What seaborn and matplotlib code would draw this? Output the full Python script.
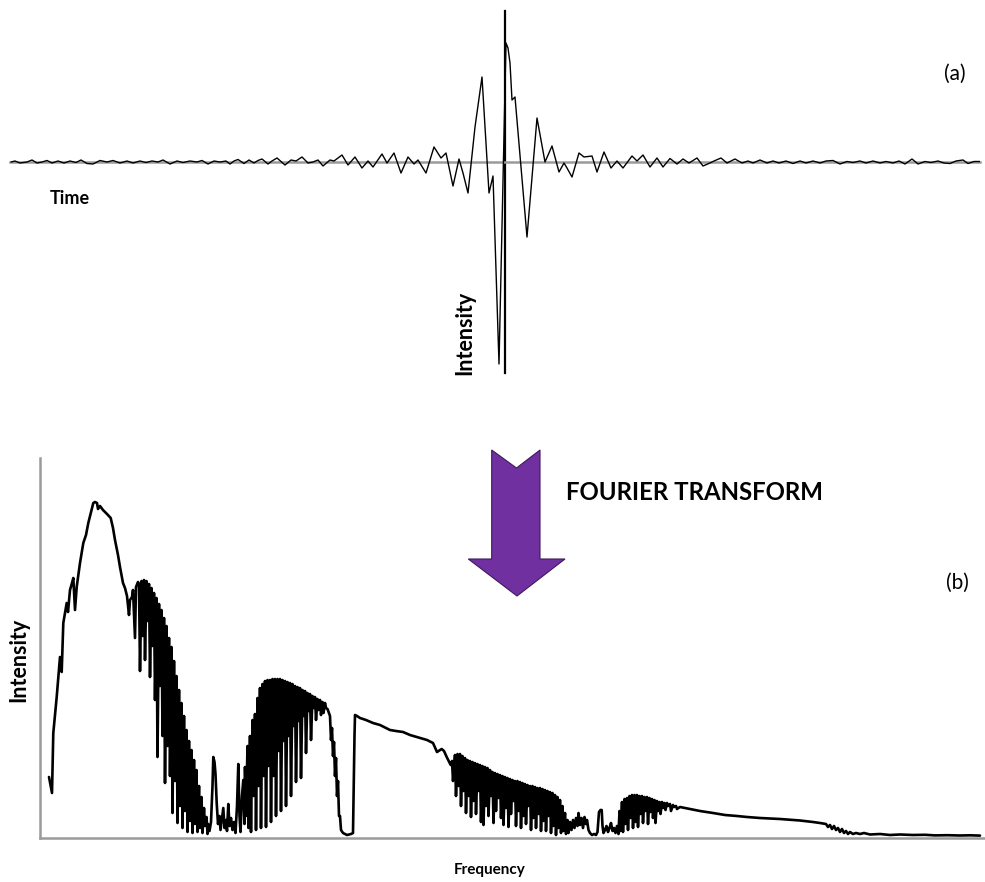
import numpy as np
import pandas as pd
import matplotlib
matplotlib.use("Agg")
import matplotlib.pyplot as plt
from matplotlib.patches import Polygon
import seaborn as sns

# ---------------- interferogram (time domain) ----------------
# optical delay (arbitrary units, 0 = zero path difference) and detector signal
time_delay = [
    -494, -490, -485, -478, -473, -468, -463, -458, -453, -447, -441, -435, -429, -424,
    -418, -412, -405, -398, -392, -385, -378, -372, -365, -359, -353, -347, -342, -335,
    -328, -322, -315, -308, -303, -297, -291, -285, -279, -275, -271, -267, -261, -256,
    -251, -247, -243, -237, -233, -228, -220, -214, -209, -203, -197, -192, -187, -182,
    -175, -171, -163, -157, -150, -143, -137, -132, -123, -118, -111, -104, -97, -91,
    -87, -79, -71, -64, -59, -52, -46, -42, -37, -30, -23, -16, -12, -6, 1, 3, 5, 7,
    10, 22, 32, 40, 47, 54, 59, 62, 67, 74, 79, 87, 92, 99, 106, 112, 118, 127, 132,
    138, 145, 152, 158, 165, 172, 178, 184, 192, 198, 205, 209, 216, 222, 230, 237,
    243, 248, 255, 262, 268, 274, 281, 288, 295, 301, 308, 315, 321, 328, 335, 342,
    348, 355, 361, 368, 375, 381, 388, 394, 400, 407, 413, 420, 426, 433, 439, 445,
    451, 458, 463, 469, 475,
]
signal = [
    0, 1, -1, 0, 2, -1, 0, 1.5, -1, 1, -1, 1, -0.5, 2,
    -1.5, -2, 1.5, 0, 1.5, -1, 1, -1, 1, -0.5, 1, 0, 2, -2,
    1, -0.5, 1, 0, 1.5, -2, 1, 0, 1, -2, 1, 2.5, -1.5, 2,
    -1, 1.5, 3, -2, 1, 4, -3, 2, 1, 5, -1, 0, 2, -4,
    2, 1, 7, -3, 5, -6, 1, -5, 8, -1, 9, -11, 5, -2,
    2, -11, 15, 4, 9, -24, 3, -11, -31, 35, 85, -31, -14, -202, 119, 114, 99, 62,
    65, -75, 44, 0, 16, -10, -1, -6, -15, 9, 5, 6, -10, 10, -6, 1, -6, 6, 1,
    7, -5, 4, -5, 3.5, -2, 3, -1, 4, -4, -1, 1, 4, -1, 3, -1,
    1, -1, 2, -1, 1, -1, 1, -1.5, 1, -1, 1, -1, 1, 1.5, -2, 0.5,
    -0.5, 1, -1, 1, -1, 0.5, -1, 1, -2, 3, -2, 0.5, -0.5, 1, -1, -1.5,
    1, 2, -1.5, 0.5, 0.5,
]

# ---------------- spectrum (frequency domain) ----------------
# (wavenumber, intensity) pairs, region by region
spec_rise = [
    (49, 59), (52, 43), (53.3, 103), (56.7, 139), (60, 179), (61.7, 164), (63.3, 213),
    (66.7, 233), (68, 224), (70, 246), (72, 253), (73.3, 258), (75, 226), (76.7, 249),
    (80, 273), (83.3, 293), (86, 301), (88.3, 313), (91, 324), (93.3, 333), (95, 334),
    (97, 333), (98, 327), (100, 330), (103, 326), (107, 322), (110.7, 318), (113, 308),
    (115, 296), (118, 281), (120, 269), (123, 253), (125, 248), (127, 240), (129, 221),
    (130, 236), (132, 239), (133, 246), (135, 198), (136, 249), (138, 254),
]
spec_band1 = [
    (139, 252), (140, 165), (141.5, 255), (142.5, 200), (144, 256), (145, 176),
    (146.5, 255), (147.5, 215), (149, 252), (150, 159), (151.5, 248), (152.5, 190),
    (154, 243), (155, 136), (156.5, 238), (157.5, 79), (159, 232), (160, 150),
    (161.5, 226), (162.5, 100), (164, 218), (165, 53), (166.5, 210), (167.5, 90),
    (169, 198), (170, 60), (171.5, 189), (172.5, 23), (174, 175), (175, 55),
    (176.5, 160), (177.5, 13), (179, 146), (180, 30), (181.5, 133), (182.5, 8),
    (184, 120), (185, 25), (186.5, 106), (187.5, 4), (189, 95), (190, 15),
    (191.5, 86), (192.5, 3), (194, 76), (195, 12), (196.5, 66), (197.5, 4),
    (199, 50), (200, 8), (201.5, 39), (202.5, 3), (204, 28), (205, 10),
    (206.5, 19), (207.5, 2),
]
spec_gap1 = [
    (208, 12), (209.5, 5), (211, 14), (212.5, 50), (213.3, 79), (214.5, 74), (215.5, 62),
    (216.7, 33), (218, 12), (219.5, 20), (220.5, 6), (222, 18), (223.3, 28), (224.5, 8),
    (226, 16), (227, 5), (228.3, 32), (229.5, 10), (231, 18), (232.5, 6), (234, 14),
    (235.5, 3), (237, 30), (238.3, 72), (239.5, 20), (240.5, 4), (242, 40), (243.3, 56),
    (244.5, 12),
]
spec_band2 = [
    (245, 69), (246, 20), (247.5, 90), (248.5, 8), (250, 100), (251, 4),
    (252.5, 116), (253.5, 40), (255, 122), (256, 6), (257.5, 138), (258.5, 50),
    (260, 148), (261, 8), (262.5, 152), (263.5, 60), (265, 155), (266, 9),
    (267.5, 156), (268.5, 70), (270, 156), (271, 14), (272.5, 157), (273.5, 60),
    (275, 157), (276, 20), (277.5, 157), (278.5, 85), (280, 157), (281, 25),
    (282.5, 156), (283.5, 95), (285, 155), (286, 30), (287.5, 154), (288.5, 100),
    (290, 153), (291, 40), (292.5, 152), (293.5, 110), (295, 150), (296, 54),
    (297.5, 149), (298.5, 115), (300, 148), (301, 58), (302.5, 146), (303.5, 120),
    (305, 145), (306, 83), (307.5, 143), (308.5, 125), (310, 142), (311, 96),
    (312.5, 140), (313.5, 128), (315, 139), (316, 116), (317.5, 137), (318.5, 126),
    (320, 136), (321, 121), (322.5, 134), (323.5, 123), (325, 133), (326, 128),
    (327.5, 127), (330, 120), (331, 96), (332, 108), (333, 80), (334, 94), (335, 60),
    (336, 78), (337, 40), (338, 55), (339, 20), (340, 20), (341, 6), (343, 3),
    (347, 1), (351, 2), (353, 3),
]
spec_plateau = [
    (354.5, 100), (355, 121), (357, 120), (360, 118), (366, 116), (373, 113), (380, 111),
    (390, 106), (396, 105), (403, 104), (410, 101), (420, 98), (427, 96), (433, 93),
    (437, 84), (441.7, 87), (444, 85), (446.7, 79), (450.7, 71),
]
spec_band3 = [
    (452, 75), (453, 55), (455, 81), (456, 40), (457.5, 82), (458.5, 50),
    (460, 82), (461, 30), (462.5, 80), (463.5, 45), (465, 78), (466, 23),
    (467.5, 76), (468.5, 40), (470, 75), (471, 19), (472.5, 74), (473.5, 35),
    (475, 73), (476, 22), (477.5, 72), (478.5, 45), (480, 71), (481, 14),
    (482.5, 70), (483.5, 11), (485, 69), (486, 30), (487.5, 68), (488.5, 20),
    (490, 66), (491, 40), (492.5, 64), (493.5, 13), (495, 63), (496, 25),
    (497.5, 62), (498.5, 38), (500, 61), (501, 18), (502.5, 60), (503.5, 11),
    (505, 59), (506, 28), (507.5, 58), (508.5, 9), (510, 57), (511, 22),
    (512.5, 56), (513.5, 35), (515, 55), (516, 10), (517.5, 55), (518.5, 25),
    (520, 54), (521, 8), (522.5, 53), (523.5, 20), (525, 52), (526, 12),
    (527.5, 51), (528.5, 30), (530, 50), (531, 6), (532.5, 50), (533.5, 18),
    (535, 49), (536, 8), (537.5, 48), (538.5, 22), (540, 48), (541, 5),
    (542.5, 47), (543.5, 15), (545, 46), (546, 5), (547.5, 45), (548.5, 20),
    (550, 44), (551, 3), (552.5, 43), (553.5, 10), (555, 41), (556, 1),
    (557.5, 39), (558.5, 8), (560, 36), (561, 3), (562.5, 30), (563.5, 5),
    (565, 23), (566, 2), (567.5, 16), (568.5, 3),
]
spec_gap2 = [
    (570, 14), (571.5, 6), (573, 16), (574.5, 8), (576, 18), (577.5, 10), (578.5, 23),
    (580, 11), (581.5, 18), (583, 8), (584.5, 19), (586, 12), (587, 16), (588.5, 6),
    (590, 3), (592, 1), (594, 2), (596, 1), (597.5, 4), (599, 24), (600.5, 26),
    (601.7, 26), (602.5, 10), (603.5, 3), (605, 6), (606.5, 10), (608, 4), (609.5, 8),
    (611, 13), (612.5, 5), (614, 8), (615.5, 3), (617, 10), (618.5, 2),
]
spec_band4 = [
    (619.5, 25), (620.5, 5), (622, 34), (623, 4), (624.5, 37), (625.5, 12),
    (627, 38), (628, 6), (629.5, 40), (630.5, 18), (632, 41), (633, 8),
    (634.5, 41), (635.5, 14), (637, 41), (638, 9), (639.5, 40), (640.5, 22),
    (642, 40), (643, 13), (644.5, 39), (645.5, 25), (647, 39), (648, 12),
    (649.5, 38), (650.5, 24), (652, 37), (653, 18), (654.5, 36), (655.5, 13),
    (657, 35), (658, 25), (659.5, 34), (660.5, 22), (662, 34), (663, 28),
    (664.5, 33), (665.5, 26), (667, 33), (668, 30), (670, 32), (671, 25),
    (673, 31), (674, 29), (676, 30), (677, 27),
]
spec_tail = [
    (680, 29), (690, 27), (700, 25), (713, 23), (725, 21), (737, 20), (747, 19),
    (760, 18), (780, 17), (800, 15.5), (813, 14), (820, 13), (826, 12), (828, 9),
    (830, 11), (832, 7), (834, 10), (836, 6), (838, 8), (840, 4), (842, 7), (844, 3),
    (846, 5), (848, 2), (850, 4), (853, 2), (856, 3), (860, 2), (864, 3), (870, 1.5),
    (880, 2), (890, 1), (900, 1.5), (913, 1), (925, 1.2), (935, 0.6), (947, 0.8),
    (960, 0.5), (970, 0.7), (980, 0.4),
]

# ---------------- build tables ----------------
interferogram = pd.DataFrame({"time": time_delay, "intensity": signal})
spectrum = pd.DataFrame(
    spec_rise + spec_band1 + spec_gap1 + spec_band2 + spec_plateau
    + spec_band3 + spec_gap2 + spec_band4 + spec_tail,
    columns=["frequency", "intensity"],
)

sns.set_theme(style="white")
plt.rcParams["font.family"] = ["Lato", "DejaVu Sans"]

W, H = 985, 882
fig = plt.figure(figsize=(W / 100, H / 100), dpi=100)


def frac_box(x0, y0, x1, y1):
    """Pixel box (top-left origin) -> figure fraction rect."""
    return [x0 / W, 1 - y1 / H, (x1 - x0) / W, (y1 - y0) / H]


AXIS_GREY = "#9a9a9a"

# ---- (a) interferogram ----
ax_t = fig.add_axes(frac_box(10, 11, 980, 372.7))
sns.lineplot(data=interferogram, x="time", y="intensity", sort=False, estimator=None,
             color="black", lw=1.0, ax=ax_t, zorder=3)
ax_t.set_xlim(-495, 475)
ax_t.set_ylim(-210.7, 151)
for side in ("top", "right"):
    ax_t.spines[side].set_visible(False)
ax_t.spines["left"].set_position(("data", 0))
ax_t.spines["left"].set_color("black")
ax_t.spines["left"].set_linewidth(1.6)
ax_t.spines["bottom"].set_position(("data", 0))
ax_t.spines["bottom"].set_color(AXIS_GREY)
ax_t.spines["bottom"].set_linewidth(1.8)
ax_t.set_xticks([])
ax_t.set_yticks([])
ax_t.set_xlabel("")
ax_t.set_ylabel("")
ax_t.patch.set_alpha(0)

# ---- (b) spectrum ----
ax_s = fig.add_axes(frac_box(40, 458, 985, 838))
sns.lineplot(data=spectrum, x="frequency", y="intensity", sort=False, estimator=None,
             color="black", lw=1.9, ax=ax_s, zorder=3)
ax_s.set_xlim(40, 985)
ax_s.set_ylim(-2, 378)
for side in ("top", "right"):
    ax_s.spines[side].set_visible(False)
for side in ("left", "bottom"):
    ax_s.spines[side].set_color(AXIS_GREY)
    ax_s.spines[side].set_linewidth(1.8)
ax_s.set_xticks([])
ax_s.set_yticks([])
ax_s.set_xlabel("")
ax_s.set_ylabel("")
ax_s.patch.set_alpha(0)

# ---- overlay: arrow and labels in pixel space ----
ov = fig.add_axes([0, 0, 1, 1])
ov.set_xlim(0, W)
ov.set_ylim(H, 0)
ov.axis("off")
ov.patch.set_alpha(0)

arrow_outline = [(491.7, 450), (516.5, 468), (540, 450), (540, 559), (565, 559),
                 (517, 596), (468.3, 559), (491.7, 559)]
ov.add_patch(Polygon(arrow_outline, closed=True, facecolor="#7030A0",
                     edgecolor="#3f1a5c", lw=0.8))

bold = dict(fontweight="bold", color="black")
ov.text(70, 198, "Time", ha="center", va="center", fontsize=13, **bold)
ov.text(465, 333, "Intensity", ha="center", va="center", rotation=90, fontsize=15.5, **bold)
ov.text(18.5, 660, "Intensity", ha="center", va="center", rotation=90, fontsize=15.5, **bold)
ov.text(490, 870, "Frequency", ha="center", va="center", fontsize=11, **bold)
ov.text(694.5, 493, "FOURIER TRANSFORM", ha="center", va="center", fontsize=17.3, **bold)
ov.text(955, 74, "(a)", ha="center", va="center", fontsize=15, color="black")
ov.text(957, 583, "(b)", ha="center", va="center", fontsize=15, color="black")

fig.savefig("out.png", dpi=100)
